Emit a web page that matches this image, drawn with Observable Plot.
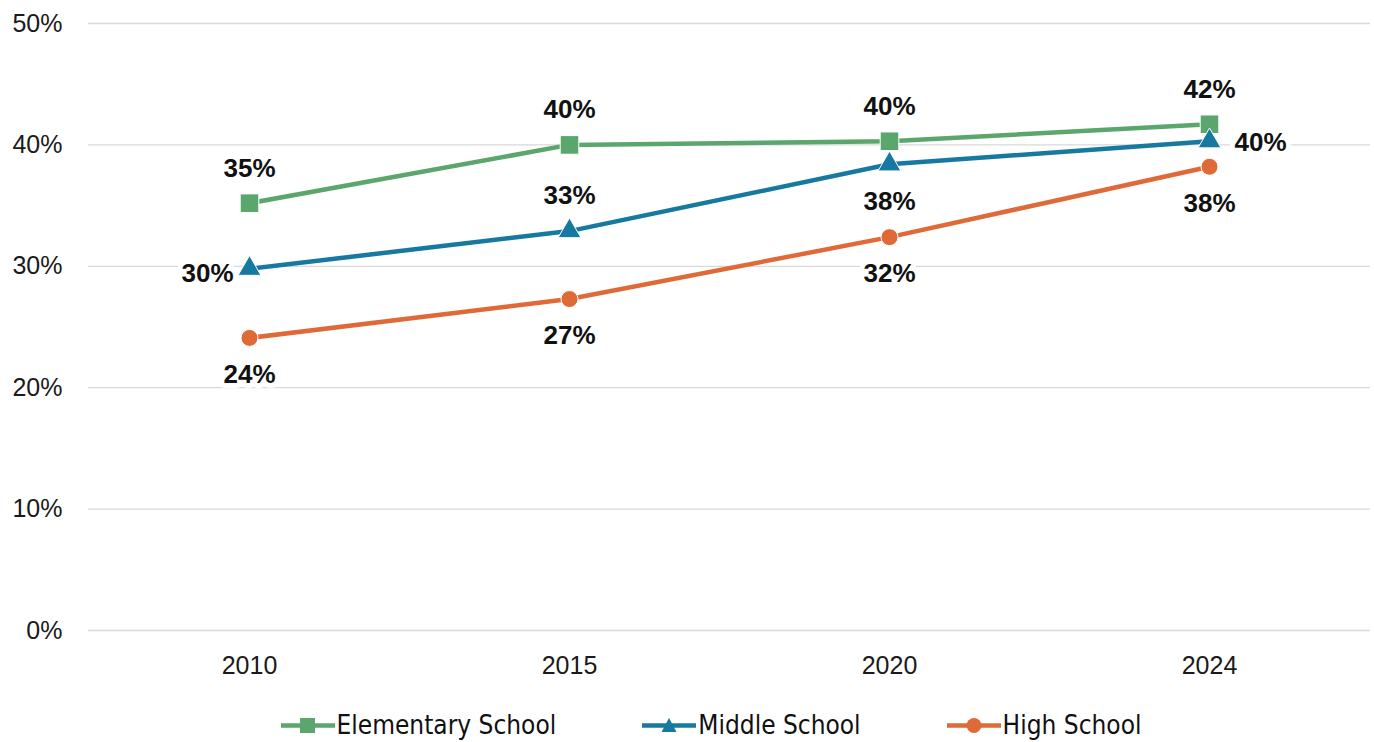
<!DOCTYPE html>
<html><head><meta charset="utf-8">
<script src="https://cdn.jsdelivr.net/npm/d3@7"></script>
<script src="https://cdn.jsdelivr.net/npm/@observablehq/plot@0.6"></script>
<style>
body{margin:0;background:#fff;font-family:"Liberation Sans",Arial,sans-serif;overflow:hidden;}
#chart svg{display:block;}
#legend{display:flex;justify-content:center;height:42px;padding-top:10px;padding-left:48px;align-items:flex-start;font-family:"Liberation Sans Narrow","DejaVu Sans",sans-serif;font-stretch:condensed;font-size:26px;color:#111;}
#legend .item{display:flex;align-items:center;}
</style></head><body>
<div id="chart"></div>
<div id="legend"></div>
<script>
const years = ["2010","2015","2020","2024"];
const seriesNames = ["Elementary School","Middle School","High School"];
const elementary = [35.2, 40.0, 40.3, 41.7];
const middle = [29.8, 32.9, 38.4, 40.3];
const high = [24.1, 27.3, 32.4, 38.2];
const colors = ["#5BA66C","#1779A0","#DF6A38"];
const symbols = ["square","triangle","circle"];
const yTicks = [0,10,20,30,40,50];

const seriesVals = [elementary, middle, high];
const data = [];
seriesNames.forEach((s,i)=>years.forEach((y,j)=>data.push({series:s, year:y, value:seriesVals[i][j]})));

const labelPos = {
  "Elementary School": ["above","above","above","above"],
  "Middle School": ["left","above","below","right"],
  "High School": ["below","below","below","below"]
};
const labels = data.map(d=>({...d, pos: labelPos[d.series][years.indexOf(d.year)]}));

const marks = [
  Plot.gridY(yTicks, {stroke:"#d9d9d9", strokeOpacity:1, strokeWidth:1.3}),
  Plot.axisY(yTicks, {tickFormat:d=>d+"%", tickSize:0, tickPadding:26, fontSize:25, fill:"#1a1a1a", label:null}),
  Plot.axisX({tickSize:0, tickPadding:26, fontSize:25, fill:"#1a1a1a", label:null})
];
seriesNames.forEach((s,i)=>{
  const sd = data.filter(d=>d.series===s);
  marks.push(Plot.line(sd, {x:"year", y:"value", stroke:colors[i], strokeWidth:4.5}));
});
const sizes = {square:10.5, triangle:8.5, circle:8.5};
seriesNames.forEach((s,i)=>{
  const sd = data.filter(d=>d.series===s);
  marks.push(Plot.dot(sd, {x:"year", y:"value", fill:colors[i], symbol:()=>symbols[i], r:sizes[symbols[i]], stroke:"white", strokeWidth:1}));
});
const txt = (pos, opts) => Plot.text(labels.filter(d=>d.pos===pos), {x:"year", y:"value", text:d=>Math.round(d.value)+"%", fontSize:26, fontWeight:"bold", fill:"#111", stroke:"white", strokeWidth:10, ...opts});
marks.push(txt("above", {dy:-35}));
marks.push(txt("below", {dy:37}));
marks.push(txt("left", {dx:-42, dy:5}));
marks.push(txt("right", {dx:51, dy:1}));

const chart = Plot.plot({
  width:1374, height:700,
  marginLeft:88, marginRight:4, marginTop:23, marginBottom:70,
  style:{fontFamily:"Liberation Sans, Arial, sans-serif", fontSize:"25px", color:"#1a1a1a", background:"white"},
  x:{type:"band", domain:years, label:null, paddingInner:0, paddingOuter:0, axis:null},
  y:{domain:[0,50], label:null, axis:null},
  marks
});
document.getElementById("chart").appendChild(chart);

// legend
const lg = document.getElementById("legend");
const offsets = [0, 86, 86];
seriesNames.forEach((s,i)=>{
  const item = document.createElement("div");
  item.className="item";
  item.style.marginLeft = offsets[i]+"px";
  const sym = symbols[i];
  let shape;
  if(sym==="square") shape = `<rect x="19" y="3" width="15" height="15" fill="${colors[i]}"/>`;
  else if(sym==="triangle") shape = `<path d="M27 3 L34.5 17 L19.5 17 Z" fill="${colors[i]}"/>`;
  else shape = `<circle cx="27" cy="10.5" r="7.5" fill="${colors[i]}"/>`;
  item.innerHTML = `<svg width="56" height="21"><line x1="0" x2="54" y1="10.5" y2="10.5" stroke="${colors[i]}" stroke-width="4.5"/>${shape}</svg><span>${s}</span>`;
  lg.appendChild(item);
});
</script>
</body></html>
